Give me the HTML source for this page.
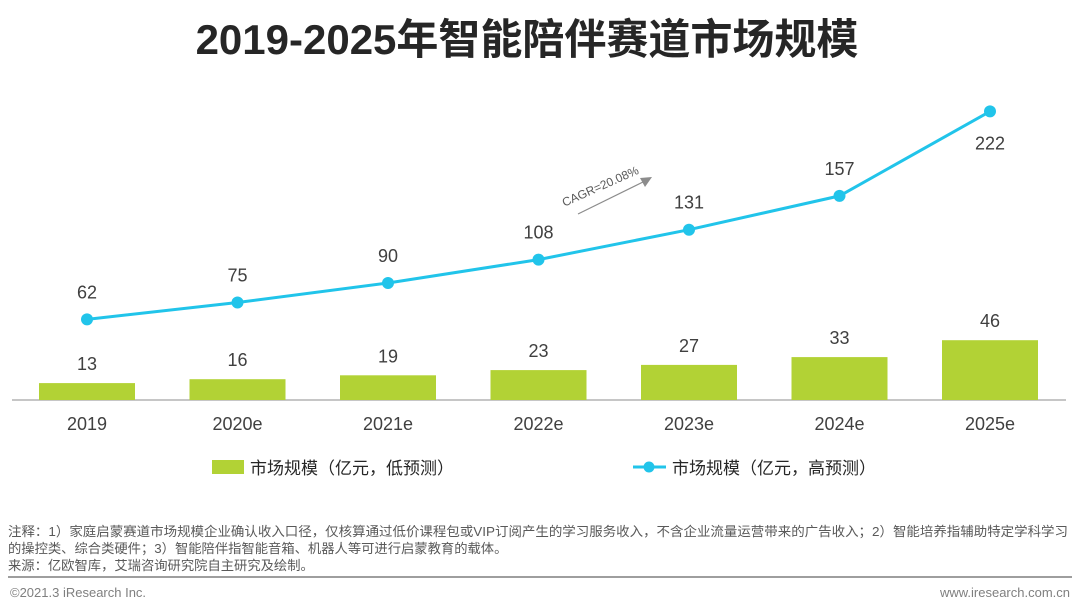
<!DOCTYPE html>
<html><head><meta charset="utf-8">
<style>
body{margin:0;width:1080px;height:612px;background:#fff;overflow:hidden;font-family:"Liberation Sans","Noto Sans CJK SC",sans-serif;}
svg{display:block}
</style></head>
<body>
<svg id="c" width="1080" height="612">
<text x="527" y="54" text-anchor="middle" font-size="42" font-weight="bold" fill="#262626" font-family="Liberation Sans, Noto Sans CJK SC, sans-serif">2019-2025年智能陪伴赛道市场规模</text>
<line x1="12" y1="400" x2="1066" y2="400" stroke="#8c8c8c" stroke-width="1"/>
<g id="bars"></g>
<g id="line"></g>
<g id="xl"></g>
<line x1="578" y1="214" x2="645" y2="181" stroke="#8c8c8c" stroke-width="1.2"/>
<polygon points="652,177 640,178 645,187" fill="#8c8c8c"/>
<text x="602" y="190" font-size="12" fill="#595959" text-anchor="middle" transform="rotate(-24 602 190)">CAGR=20.08%</text>
<rect x="212" y="460" width="32" height="14" fill="#b2d235"/>
<text x="250" y="474" font-size="17" fill="#262626">市场规模（亿元，低预测）</text>
<line x1="633" y1="467" x2="666" y2="467" stroke="#21c4ea" stroke-width="3"/>
<circle cx="649" cy="467" r="5.5" fill="#21c4ea"/>
<text x="672" y="474" font-size="17" fill="#262626">市场规模（亿元，高预测）</text>
<text x="8" y="536" font-size="13.3" fill="#595959" textLength="1060" lengthAdjust="spacingAndGlyphs">注释：1）家庭启蒙赛道市场规模企业确认收入口径，仅核算通过低价课程包或VIP订阅产生的学习服务收入，不含企业流量运营带来的广告收入；2）智能培养指辅助特定学科学习</text>
<text x="8" y="553" font-size="13.3" fill="#595959">的操控类、综合类硬件；3）智能陪伴指智能音箱、机器人等可进行启蒙教育的载体。</text>
<text x="8" y="570" font-size="13.3" fill="#595959">来源：亿欧智库，艾瑞咨询研究院自主研究及绘制。</text>
<line x1="8" y1="577" x2="1072" y2="577" stroke="#7f7f7f" stroke-width="1.5"/>
<text x="10" y="597" font-size="13" fill="#7f7f7f">©2021.3 iResearch Inc.</text>
<text x="1070" y="597" font-size="13" fill="#7f7f7f" text-anchor="end">www.iresearch.com.cn</text>
</svg>
<script>
const categories=["2019","2020e","2021e","2022e","2023e","2024e","2025e"];
const lowValues=[13,16,19,23,27,33,46];
const highValues=[62,75,90,108,131,157,222];
const NS="http://www.w3.org/2000/svg";
const x0=87,step=150.5,base=400,k=1.3;
const xs=i=>x0+i*step, ys=v=>base-v*k;
function mk(t,a,p){const e=document.createElementNS(NS,t);for(const n in a)e.setAttribute(n,a[n]);p.appendChild(e);return e;}
const bars=document.getElementById('bars'),line=document.getElementById('line'),xl=document.getElementById('xl');
lowValues.forEach((v,i)=>{
 const r=mk('rect',{x:xs(i)-48,y:ys(v),width:96,height:v*k,fill:'#b2d235'},bars);
 
 
 const t=mk('text',{x:xs(i),y:ys(v)-13,'text-anchor':'middle','font-size':18,fill:'#404040'},bars);
 t.textContent=v;
 
 
});
const pts=highValues.map((v,i)=>xs(i)+','+ys(v)).join(' ');
const pl=mk('polyline',{points:pts,fill:'none',stroke:'#21c4ea','stroke-width':3},line);


highValues.forEach((v,i)=>{
 const c=mk('circle',{cx:xs(i),cy:ys(v),r:6,fill:'#21c4ea'},line);
 
 
 const last=i===highValues.length-1;
 const t=mk('text',{x:xs(i),y:last?ys(v)+38:ys(v)-21,'text-anchor':'middle','font-size':18,fill:'#404040'},line);
 t.textContent=v;
 
 
});
categories.forEach((c,i)=>{
 const t=mk('text',{x:xs(i),y:430,'text-anchor':'middle','font-size':18,fill:'#404040'},xl);
 t.textContent=c;
 
 
});
</script>
</body></html>
